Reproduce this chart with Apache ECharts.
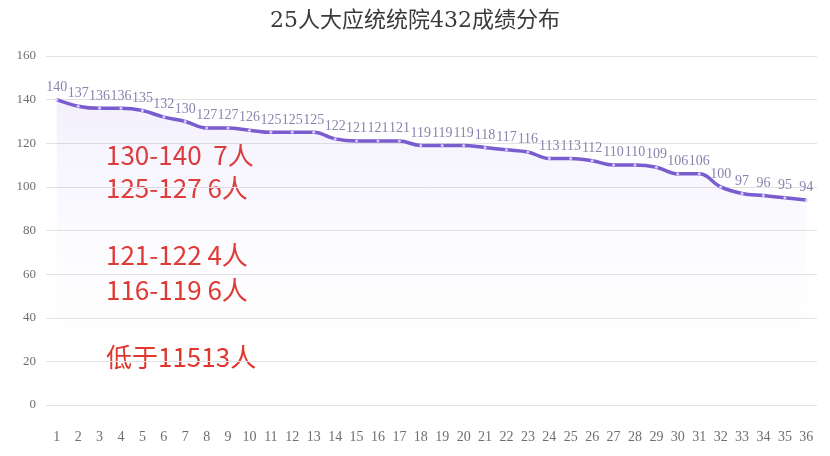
<!DOCTYPE html>
<html>
<head>
<meta charset="utf-8">
<script src="https://cdn.jsdelivr.net/npm/echarts@6/dist/echarts.min.js"></script>
<style>html,body{margin:0;padding:0;background:#fff}#c{width:830px;height:456px}</style>
</head>
<body>
<div id="c"></div>
<script>
var categories = ['1','2','3','4','5','6','7','8','9','10','11','12','13','14','15','16','17','18','19','20','21','22','23','24','25','26','27','28','29','30','31','32','33','34','35','36'];
var scores = [140,137,136,136,135,132,130,127,127,126,125,125,125,122,121,121,121,119,119,119,118,117,116,113,113,112,110,110,109,106,106,100,97,96,95,94];
var titleText = '25人大应统统院432成绩分布';
var notes = ['130-140  7人','125-127 6人','121-122 4人','116-119 6人','低于11513人'];
var noteY = [158, 191, 258, 293, 360];

var serif = '"Liberation Serif","DejaVu Serif","Noto Sans CJK SC",serif';
var chart = echarts.init(document.getElementById('c'));
var graphics = notes.map(function (t, i) {
  return {
    type: 'text', left: 106, top: noteY[i] - 16,
    style: { text: t, fill: '#e0322a', font: '26px "Noto Sans CJK SC","Noto Sans",sans-serif' }
  };
});
chart.setOption({
  animation: false,
  backgroundColor: '#fff',
  title: {
    text: titleText, left: 'center', top: 5,
    textStyle: { color: '#3a3a3a', fontSize: 22, fontWeight: 'normal', fontFamily: '"DejaVu Serif","Noto Sans CJK SC",serif' }
  },
  grid: { left: 46, right: 13, top: 56, bottom: 51 },
  xAxis: {
    type: 'category', data: categories, boundaryGap: true,
    axisLine: { show: false }, axisTick: { show: false },
    axisLabel: { color: '#6e6e6e', fontSize: 14, fontFamily: serif, margin: 25, interval: 0 }
  },
  yAxis: {
    type: 'value', min: 0, max: 160, interval: 20,
    axisLine: { show: false }, axisTick: { show: false },
    axisLabel: { color: '#6e6e6e', fontSize: 13, fontFamily: serif, margin: 10 },
    splitLine: { lineStyle: { color: '#e2e2e2', width: 1 } }
  },
  series: [{
    type: 'line', data: scores, smooth: 0.4,
    symbol: 'circle', symbolSize: 3, showSymbol: true,
    itemStyle: { color: '#d8ccff', borderWidth: 0 },
    lineStyle: { color: '#7b5ccf', width: 3.5 },
    areaStyle: {
      color: new echarts.graphic.LinearGradient(0, 0, 0, 1, [
        { offset: 0, color: 'rgba(160,135,235,0.18)' },
        { offset: 1, color: 'rgba(255,255,255,0)' }
      ])
    },
    label: {
      show: true, position: 'top', distance: 4,
      color: '#8c82ad', fontSize: 14, fontFamily: serif
    }
  }],
  graphic: graphics
});
</script>
</body>
</html>
